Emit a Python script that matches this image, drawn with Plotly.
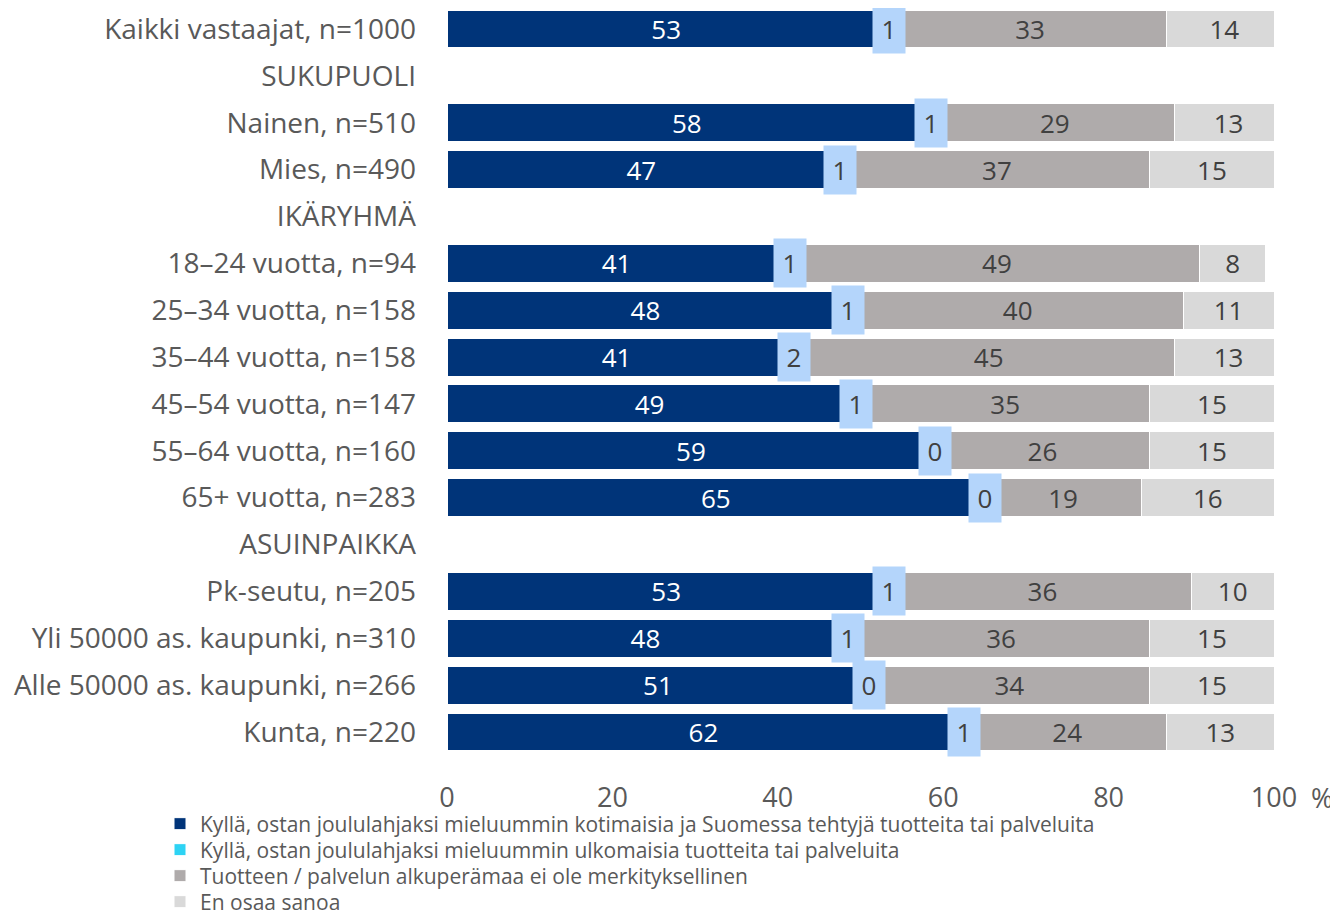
import plotly.graph_objects as go

categories = ["Kaikki vastaajat, n=1000", "SUKUPUOLI", "Nainen, n=510", "Mies, n=490",
              "IKÄRYHMÄ", "18–24 vuotta, n=94", "25–34 vuotta, n=158", "35–44 vuotta, n=158",
              "45–54 vuotta, n=147", "55–64 vuotta, n=160", "65+ vuotta, n=283", "ASUINPAIKKA",
              "Pk-seutu, n=205", "Yli 50000 as. kaupunki, n=310", "Alle 50000 as. kaupunki, n=266",
              "Kunta, n=220"]
kotimaisia = [53, None, 58, 47, None, 41, 48, 41, 49, 59, 65, None, 53, 48, 51, 62]
ulkomaisia = [1, None, 1, 1, None, 1, 1, 2, 1, 0, 0, None, 1, 1, 0, 1]
ei_merkitysta = [33, None, 29, 37, None, 49, 40, 45, 35, 26, 19, None, 36, 36, 34, 24]
eos = [14, None, 13, 15, None, 8, 11, 13, 15, 15, 16, None, 10, 15, 15, 13]
series_names = ["Kyllä, ostan joululahjaksi mieluummin kotimaisia ja Suomessa tehtyjä tuotteita tai palveluita",
                "Kyllä, ostan joululahjaksi mieluummin ulkomaisia tuotteita tai palveluita",
                "Tuotteen / palvelun alkuperämaa ei ole merkityksellinen",
                "En osaa sanoa"]
x_ticks = [0, 20, 40, 60, 80, 100]

colors = ["#003479", "#2DD3F4", "#AFABAB", "#D9D9D9"]
text_colors = ["#FFFFFF", "#404040", "#404040", "#404040"]
FONT = "Open Sans"

# the page body has an 8px margin: work in figure coordinates (screen - 8)
OFF = 8
W, H = 1338, 911
ML, MR, MT, MB = 447 - OFF, W - (1274 - OFF), 0, H - (755 - OFF)
PW, PH = W - ML - MR, H - MT - MB
SLOT = (732 - 29) / 15.0          # px per category
y_top = -(29 - OFF) / SLOT        # value at the top edge of the plot
y_bot = 15 + ((755 - OFF) - (732 - OFF)) / SLOT


def px_x(p):
    return (p - OFF - ML) / PW


def px_y(p):
    return (H - MB - (p - OFF)) / PH


legend_names = ["legend", "legend2", "legend3", "legend4"]
legend_ys = [824, 850, 876, 902]

fig = go.Figure()
for i, (vals, name, col, tcol, show_text) in enumerate(zip(
        [kotimaisia, ulkomaisia, ei_merkitysta, eos], series_names, colors, text_colors,
        [True, False, True, True])):
    fig.add_trace(go.Bar(
        y=categories, x=vals, name=name, orientation="h",
        marker=dict(color=col, line=dict(color="white", width=1)),
        text=[("" if v is None else str(v)) for v in vals] if show_text else None,
        textposition="inside" if show_text else "none",
        insidetextanchor="middle",
        textangle=0,
        constraintext="none",
        textfont=dict(color=tcol, size=26, family=FONT),
        hoverinfo="x+name",
        legend=legend_names[i],
    ))

# labels for the small "ulkomaisia" segment, drawn as boxes centred on the segment
for cat, k, u in zip(categories, kotimaisia, ulkomaisia):
    if u is None:
        continue
    fig.add_annotation(x=k + u / 2, y=cat, xref="x", yref="y", text=str(u),
                       showarrow=False, bgcolor="#B4D5FB", width=30, height=46,
                       font=dict(color="#404040", size=26, family=FONT),
                       xanchor="center", yanchor="middle")

fig.add_annotation(xref="paper", yref="paper", x=px_x(1322), y=px_y(797), text="%",
                   showarrow=False, xanchor="center", yanchor="middle",
                   font=dict(color="#595959", size=27, family=FONT))

legend_common = dict(orientation="v", xanchor="left", yanchor="middle",
                     font=dict(size=21, family=FONT, color="#595959"),
                     itemwidth=30, bgcolor="rgba(0,0,0,0)", borderwidth=0,
                     tracegroupgap=0)
layout_legends = {}
for ln, ly in zip(legend_names, legend_ys):
    layout_legends[ln] = dict(legend_common, x=px_x(160), y=px_y(ly))

fig.update_layout(
    barmode="stack",
    bargap=0.19,
    width=W, height=H,
    margin=dict(l=ML, r=MR, t=MT, b=MB, pad=0, autoexpand=False),
    paper_bgcolor="white", plot_bgcolor="white",
    font=dict(family=FONT, color="#595959"),
    showlegend=True,
    xaxis=dict(range=[0, 100], tickvals=x_ticks, ticktext=[str(t) for t in x_ticks],
               showgrid=False, zeroline=False, showline=False,
               ticks="outside", ticklen=0, ticklabelstandoff=19, automargin=False,
               tickfont=dict(size=27, family=FONT, color="#595959")),
    yaxis=dict(categoryorder="array", categoryarray=categories,
               range=[y_bot, y_top],
               showgrid=False, zeroline=False, showline=False, ticks="",
               ticklabelstandoff=30, automargin=False,
               tickfont=dict(size=28, family=FONT, color="#595959")),
    **layout_legends,
)

fig.write_html("out.html")
